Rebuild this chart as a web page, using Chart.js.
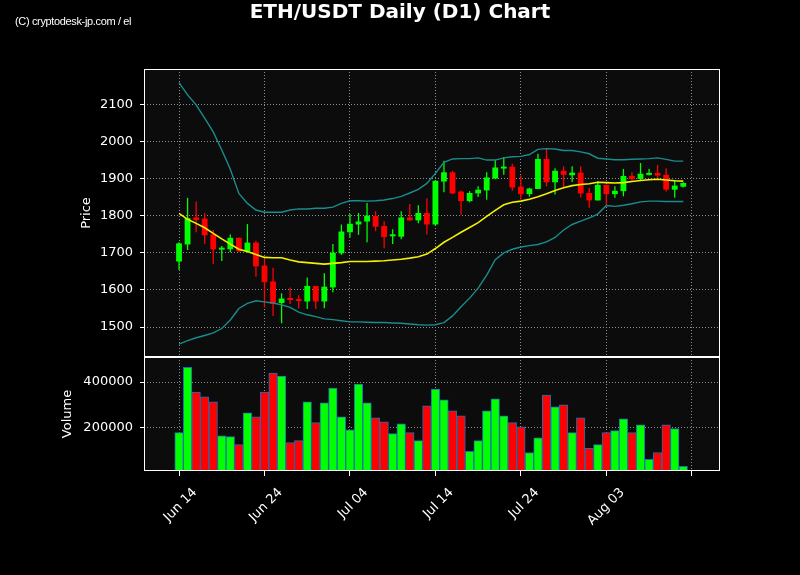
<!DOCTYPE html>
<html>
<head>
<meta charset="utf-8">
<title>ETH/USDT Daily (D1) Chart</title>
<script src="https://cdn.jsdelivr.net/npm/chart.js@4.4.0/dist/chart.umd.min.js"></script>
<style>
  html, body { margin: 0; padding: 0; background: #000; }
  #wrap { position: relative; width: 800px; height: 575px; }
  #title {
    position: absolute; left: 0; top: -1px; width: 800px; text-align: center;
    font: bold 20px "DejaVu Sans"; line-height: 24px; color: #fff;
  }
  #credit {
    position: absolute; left: 15px; top: 15px;
    font: 11px "Liberation Sans"; line-height: 12px; color: #fff; letter-spacing: -0.35px;
  }
</style>
</head>
<body>
<div id="wrap">
  <canvas id="chart" width="800" height="575"></canvas>
  <div id="title">ETH/USDT Daily (D1) Chart</div>
  <div id="credit">(C) cryptodesk-jp.com / el</div>
</div>
<script>
/* ✅ DATA (daily candles, Jun 14 – Aug 12) */
const dates = [
  "06-14","06-15","06-16","06-17","06-18","06-19","06-20","06-21","06-22","06-23",
  "06-24","06-25","06-26","06-27","06-28","06-29","06-30","07-01","07-02","07-03",
  "07-04","07-05","07-06","07-07","07-08","07-09","07-10","07-11","07-12","07-13",
  "07-14","07-15","07-16","07-17","07-18","07-19","07-20","07-21","07-22","07-23",
  "07-24","07-25","07-26","07-27","07-28","07-29","07-30","07-31","08-01","08-02",
  "08-03","08-04","08-05","08-06","08-07","08-08","08-09","08-10","08-11","08-12"
];
const open = [
  1677,1723,1796,1793,1750,1709,1710,1741,1704,1728,
  1666,1623,1565,1577,1575,1569,1611,1569,1607,1699,
  1756,1777,1785,1800,1773,1745,1744,1796,1788,1808,
  1777,1893,1918,1866,1840,1861,1869,1901,1928,1933,
  1879,1859,1873,1954,1891,1922,1910,1917,1862,1842,
  1884,1859,1867,1908,1900,1911,1916,1911,1871,1879
];
const high = [
  1729,1849,1839,1808,1762,1719,1750,1742,1778,1733,
  1686,1660,1591,1607,1586,1634,1611,1645,1724,1777,
  1805,1808,1835,1813,1786,1764,1813,1832,1829,1848,
  1897,1949,1922,1869,1867,1880,1918,1952,1959,1941,
  1909,1876,1968,1981,1929,1934,1934,1934,1876,1894,
  1884,1880,1927,1918,1943,1927,1938,1929,1896,1891
];
const low = [
  1654,1708,1756,1724,1670,1678,1702,1702,1701,1636,
  1553,1530,1510,1562,1550,1549,1549,1551,1594,1695,
  1742,1749,1729,1759,1713,1724,1737,1787,1780,1750,
  1773,1864,1859,1803,1837,1851,1844,1899,1911,1868,
  1844,1852,1873,1880,1858,1878,1892,1850,1822,1842,
  1828,1849,1853,1895,1896,1909,1903,1866,1849,1877
];
const close = [
  1726,1794,1789,1748,1710,1713,1741,1705,1728,1664,
  1621,1562,1577,1573,1570,1611,1569,1609,1701,1758,
  1779,1785,1801,1771,1743,1747,1796,1788,1808,1777,
  1895,1918,1861,1840,1862,1871,1904,1931,1933,1877,
  1859,1874,1954,1891,1922,1911,1917,1861,1842,1884,
  1859,1868,1908,1900,1914,1916,1909,1871,1882,1889
];
const volume = [
  178000,465000,356000,335000,313000,164000,161000,126000,265000,248000,
  356000,439000,426000,135000,143000,313000,222000,309000,374000,248000,
  191000,391000,309000,243000,226000,174000,217000,178000,143000,296000,
  369000,322000,274000,252000,96000,143000,274000,326000,252000,222000,
  204000,91000,156000,343000,291000,300000,178000,243000,109000,126000,
  178000,187000,239000,178000,213000,61000,91000,213000,196000,30000
];
const ma = [
  1807,1791,1780,1768,1753,1738,1724,1710,1704,1696,
  1688,1687,1687,1681,1676,1674,1672,1670,1672,1674,
  1677,1677,1677,1678,1679,1681,1683,1686,1690,1697,
  1712,1729,1742,1756,1769,1782,1799,1815,1830,1837,
  1840,1845,1852,1860,1869,1876,1882,1885,1887,1891,
  1890,1889,1890,1893,1896,1898,1899,1897,1895,1894
];
const upper = [
  2160,2127,2100,2064,2027,1978,1926,1861,1834,1816,
  1810,1810,1810,1816,1819,1819,1821,1821,1824,1834,
  1841,1841,1840,1841,1843,1847,1853,1862,1872,1888,
  1915,1945,1954,1955,1955,1957,1951,1951,1957,1960,
  1961,1966,1980,1982,1981,1977,1977,1973,1968,1956,
  1954,1952,1952,1953,1954,1955,1957,1953,1948,1948
];
const lower = [
  1454,1463,1471,1477,1484,1496,1519,1550,1564,1571,
  1568,1565,1560,1553,1540,1533,1528,1522,1520,1517,
  1514,1514,1513,1512,1512,1511,1510,1508,1506,1505,
  1506,1512,1530,1555,1578,1605,1640,1682,1700,1710,
  1716,1720,1723,1730,1742,1762,1777,1786,1795,1805,
  1828,1826,1829,1833,1838,1840,1840,1839,1839,1839
];
const tickDays = [0, 10, 20, 30, 40, 50, 60];
const tickLabels = ["Jun 14", "Jun 24", "Jul 04", "Jul 14", "Jul 24", "Aug 03", ""];
const priceTicks = [1500, 1600, 1700, 1800, 1900, 2000, 2100];
const volumeTicks = [200000, 400000];

/* ✅ STYLE */
const GREEN = "#00ff00";
const RED = "#ff0000";
const TEAL = "#1a8c8c";
const YELLOW = "#f2f200";
const GRID = "#8f8f8f";
const FONT = { family: "DejaVu Sans", size: 13 };

const candleColor = close.map((c, i) => (c >= open[i] ? GREEN : RED));
const pt = (arr) => arr.map((v, i) => ({ x: i, y: v }));

/* ✅ PANEL BACKGROUND + FRAMES */
const panels = {
  id: "panels",
  beforeDraw(chart) {
    const { ctx, chartArea } = chart;
    ctx.save();
    ctx.fillStyle = "#000";
    ctx.fillRect(0, 0, chart.width, chart.height);
    ctx.fillStyle = "#0c0c0c";
    ctx.fillRect(chartArea.left, chartArea.top, chartArea.right - chartArea.left, chartArea.bottom - chartArea.top);
    ctx.restore();
  },
  afterDraw(chart) {
    const { ctx, chartArea } = chart;
    ctx.save();
    ctx.strokeStyle = "#fff";
    ctx.lineWidth = 1;
    ["y", "yv"].forEach((id) => {
      const s = chart.scales[id];
      ctx.strokeRect(chartArea.left + 0.5, Math.round(s.top) + 0.5, chartArea.right - chartArea.left - 1, Math.round(s.bottom - s.top) - 1);
    });
    ctx.restore();
  }
};

const yAxis = (opts) => Object.assign({
  type: "linear",
  position: "left",
  stack: "panes",
  ticks: { color: "#fff", font: FONT, padding: 7, callback: (v) => String(v) },
  grid: { color: GRID, lineWidth: 1, tickColor: "#fff", tickLength: 4, tickBorderDash: [] },
  border: { display: false, dash: [1, 2] },
  afterFit: (s) => { s.width = 144; }
}, opts);

new Chart(document.getElementById("chart"), {
  type: "bar",
  data: {
    datasets: [
      { type: "line", label: "Upper", data: pt(upper), yAxisID: "y", borderColor: TEAL, borderWidth: 1.4, pointRadius: 0, tension: 0, order: 0 },
      { type: "line", label: "Lower", data: pt(lower), yAxisID: "y", borderColor: TEAL, borderWidth: 1.4, pointRadius: 0, tension: 0, order: 0 },
      { type: "line", label: "MA", data: pt(ma), yAxisID: "y", borderColor: YELLOW, borderWidth: 1.6, pointRadius: 0, tension: 0, order: 0 },
      {
        label: "Wick", yAxisID: "y", grouped: false, order: 2,
        data: high.map((h, i) => ({ x: i, y: [low[i], h] })),
        backgroundColor: candleColor, barPercentage: 0.15, categoryPercentage: 1
      },
      {
        label: "Body", yAxisID: "y", grouped: false, order: 1,
        data: open.map((o, i) => ({ x: i, y: [o, close[i]] })),
        backgroundColor: candleColor, barPercentage: 0.68, categoryPercentage: 1, minBarLength: 2
      },
      {
        label: "Volume", yAxisID: "yv", grouped: false, order: 1,
        data: pt(volume),
        backgroundColor: candleColor, borderColor: "#1f6fb0", borderWidth: 1,
        barPercentage: 1, categoryPercentage: 1
      }
    ]
  },
  options: {
    responsive: false,
    animation: false,
    devicePixelRatio: 1,
    layout: { padding: { left: 0, right: 80, top: 69, bottom: 0 } },
    plugins: { legend: { display: false }, tooltip: { enabled: false } },
    scales: {
      x: {
        type: "linear",
        offset: false,
        min: -4.1,
        max: 63.3,
        afterBuildTicks: (s) => { s.ticks = tickDays.map((v) => ({ value: v })); },
        afterFit: (s) => { s.height = 104; },
        ticks: {
          color: "#fff", font: FONT, padding: 9, labelOffset: 16, minRotation: 45, maxRotation: 45,
          autoSkip: false, callback: (v, i) => tickLabels[i]
        },
        grid: { offset: false, color: GRID, lineWidth: 1, tickColor: "#fff", tickLength: 5, tickBorderDash: [] },
        border: { display: false, dash: [1, 2] }
      },
      yv: yAxis({
        stackWeight: 114,
        min: 10000,
        max: 510000,
        afterBuildTicks: (s) => { s.ticks = volumeTicks.map((v) => ({ value: v })); },
        title: { display: true, text: "Volume", color: "#fff", font: FONT, padding: { top: 59.7, bottom: 0 } }
      }),
      y: yAxis({
        stackWeight: 288,
        min: 1419,
        max: 2197,
        afterBuildTicks: (s) => { s.ticks = priceTicks.map((v) => ({ value: v })); },
        title: { display: true, text: "Price", color: "#fff", font: FONT, padding: { top: 79.2, bottom: 0 } }
      })
    }
  },
  plugins: [panels]
});
</script>
</body>
</html>
